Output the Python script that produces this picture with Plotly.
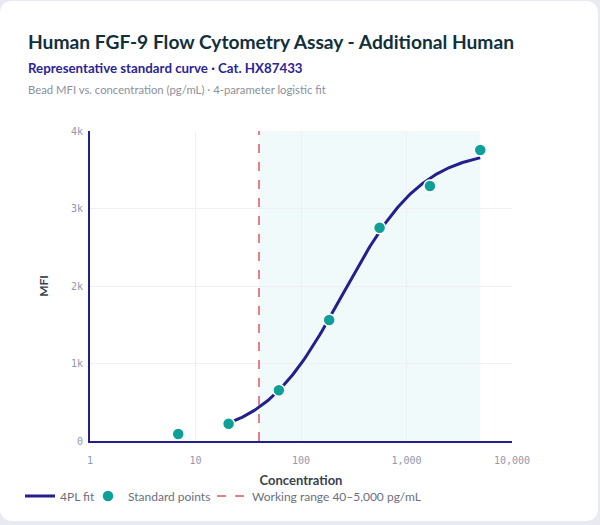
import plotly.graph_objects as go
import numpy as np

# standard points (3-fold serial dilution)
conc = [6.86, 20.6, 61.7, 185, 556, 1667, 5000]
mfi = [90, 223, 654, 1561, 2752, 3290, 3755]

# 4PL fit parameters: bottom, top, EC50, hill slope
fit_bottom = 30
fit_top = 3770
fit_ec50 = 250
fit_hill = 1.15
fit_from, fit_to = 20.6, 5000

range_lo, range_hi = 40, 5000

x_ticks = [1, 10, 100, 1000, 10000]
x_tick_text = ["1", "10", "100", "1,000", "10,000"]
y_ticks = [0, 1000, 2000, 3000, 4000]
y_tick_text = ["0", "1k", "2k", "3k", "4k"]

W, H = 600, 525
L, R, T, B = 90, 88, 131, 84
pw, ph = W - L - R, H - T - B


def px(x):
    return (x - L) / pw


def py(y):
    return (H - B - y) / ph


xs = np.logspace(np.log10(fit_from), np.log10(fit_to), 200)
ys = fit_bottom + (fit_top - fit_bottom) / (1 + (fit_ec50 / xs) ** fit_hill)

fig = go.Figure()

fig.add_trace(go.Scatter(x=xs, y=ys, mode="lines", name="4PL fit", legendwidth=23,
                         line=dict(color="#231f8c", width=3)))
fig.add_trace(go.Scatter(x=conc, y=mfi, mode="markers", name="Standard points",
                         legendwidth=79,
                         marker=dict(color="#0e9f96", size=12,
                                     line=dict(color="white", width=1.5))))
fig.add_trace(go.Scatter(x=[range_lo, range_lo], y=[0, 4000], mode="lines",
                         name="Working range 40–5,000 pg/mL",
                         line=dict(color="#e0565b", width=1.5, dash="dash")))

# card background with rounded corners
r = 13
x0, x1, y0, y1 = 0, 598, 1, 521
path = (f"M {px(x0 + r)},{py(y0)} L {px(x1 - r)},{py(y0)} "
        f"Q {px(x1)},{py(y0)} {px(x1)},{py(y0 + r)} L {px(x1)},{py(y1 - r)} "
        f"Q {px(x1)},{py(y1)} {px(x1 - r)},{py(y1)} L {px(x0 + r)},{py(y1)} "
        f"Q {px(x0)},{py(y1)} {px(x0)},{py(y1 - r)} L {px(x0)},{py(y0 + r)} "
        f"Q {px(x0)},{py(y0)} {px(x0 + r)},{py(y0)} Z")
fig.add_shape(type="path", path=path, xref="paper", yref="paper",
              fillcolor="white", line=dict(width=0), layer="below")

fig.add_vrect(x0=range_lo, x1=range_hi, fillcolor="#e6f6f7", opacity=0.6,
              line_width=0, layer="below")

font = "Lato"
fig.add_annotation(text="<b>Human FGF-9 Flow Cytometry Assay - Additional Human</b>",
                   x=px(26), y=py(41), xref="paper", yref="paper", showarrow=False,
                   xanchor="left", yanchor="middle",
                   font=dict(family=font, size=19.2, color="#11303c"))
fig.add_annotation(text="<b>Representative standard curve · Cat. HX87433</b>",
                   x=px(26), y=py(68.5), xref="paper", yref="paper", showarrow=False,
                   xanchor="left", yanchor="middle",
                   font=dict(family=font, size=13.3, color="#2b2597"))
fig.add_annotation(text="Bead MFI vs. concentration (pg/mL) · 4-parameter logistic fit",
                   x=px(26), y=py(90), xref="paper", yref="paper", showarrow=False,
                   xanchor="left", yanchor="middle",
                   font=dict(family=font, size=11.3, color="#8c909c"))

tick_font = dict(family="DejaVu Sans Mono", size=10, color="#9297ad")

fig.update_layout(
    width=W, height=H,
    margin=dict(l=L, r=R, t=T, b=B),
    paper_bgcolor="#e9eaf1",
    plot_bgcolor="rgba(0,0,0,0)",
    font=dict(family=font, color="#3b3f4c"),
    showlegend=True,
    legend=dict(orientation="h", x=px(20), y=py(496), xanchor="left", yanchor="middle",
                font=dict(family=font, size=12, color="#6b6f7d"),
                bgcolor="rgba(0,0,0,0)", itemwidth=30),
    xaxis=dict(type="log", range=[0, 4], tickvals=x_ticks, ticktext=x_tick_text,
               tickfont=tick_font, showgrid=True, gridcolor="#eef0f5",
               showline=True, linecolor="#231f8c", linewidth=2, zeroline=False,
               ticks="", ticklabelstandoff=9,
               title=dict(text="<b>Concentration</b>", standoff=11,
                          font=dict(size=13, color="#3b3f4c"))),
    yaxis=dict(range=[0, 4000], tickvals=y_ticks, ticktext=y_tick_text,
               tickfont=tick_font, showgrid=True, gridcolor="#eef0f5",
               showline=True, linecolor="#231f8c", linewidth=2, zeroline=False,
               ticks="", ticklabelstandoff=3,
               title=dict(text="<b>MFI</b>", standoff=20,
                          font=dict(size=12, color="#3b3f4c"))),
)

fig.write_html("out.html", config={"displayModeBar": False},
               post_script="document.body.style.margin='0';")
